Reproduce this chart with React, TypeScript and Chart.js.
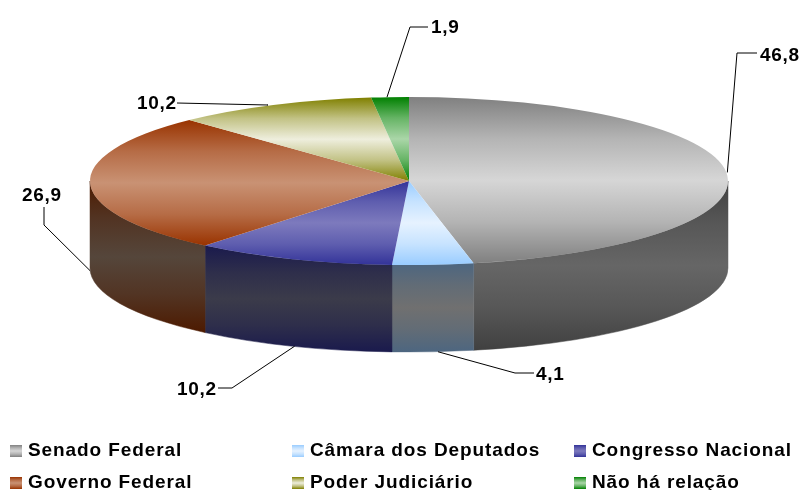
import React, { useEffect, useRef } from "react";
import { Chart, registerables } from "chart.js";

Chart.register(...registerables);

const categories = ["Senado Federal", "Câmara dos Deputados", "Congresso Nacional", "Governo Federal", "Poder Judiciário", "Não há relação"];
const values = [46.8, 4.1, 10.2, 26.9, 10.2, 1.9];
const valueLabels = ["46,8", "4,1", "10,2", "26,9", "10,2", "1,9"];

const faceEdge = ["#808080", "#99ccff", "#333399", "#993300", "#808000", "#008000"];
const faceMid = ["#d6d6d6", "#e6f2ff", "#7d7abd", "#c99274", "#eeeedd", "#aad6a8"];
const wallEdge = ["#404040", "#4d6680", "#1a1a4d", "#4d1a00", "#404000", "#004000"];
const wallMid = ["#666666", "#707070", "#3b3b4a", "#55463b", "#66664d", "#4d664d"];

// layout of the drawing
const CX = 409, CY = 181, RX = 319, RY = 84, DEPTH = 87;
const TILT = RY / RX;
// leader: anchor nudge along x, elbow point, end point, text x, text baseline
const anchorNudge = [1, 5, 2, 0, -6, -3];
const leaderElbow = [[737, 53], [515, 373], [232, 388], [44, 225], [268, 105], [410, 27]];
const leaderEnd = [[757, 53], [534, 373], [218, 388], [44, 207], [177, 103], [428, 27]];
const labelPos = [[760, 61], [536, 380], [177, 395], [22, 201], [137, 109], [431, 33]];
const legendCols = [10, 292, 574];
const legendRows = [457, 489];
const FONT = 'bold 19px "Liberation Sans", Arial, sans-serif';

const total = values.reduce((a, b) => a + b, 0);
function sliceAngles(i: number) {
  let before = 0;
  for (let k = 0; k < i; k++) before += values[k];
  const a0 = -Math.PI / 2 + (before / total) * 2 * Math.PI;
  const a1 = a0 + (values[i] / total) * 2 * Math.PI;
  return [a0, a1];
}
function sinRange(a0: number, a1: number, includeCentre: boolean) {
  const list = [Math.sin(a0), Math.sin(a1)];
  if (includeCentre) list.push(0);
  for (let n = -3; n <= 5; n++) {
    const c = Math.PI / 2 + n * Math.PI;
    if (c > a0 && c < a1) list.push(Math.sin(c));
  }
  return [Math.min(...list), Math.max(...list)];
}
function mix(a: string, b: string, t: number) {
  const p = (h: string, o: number) => parseInt(h.slice(o, o + 2), 16);
  const ch = (o: number) => Math.round(p(a, o) + (p(b, o) - p(a, o)) * t);
  return `rgb(${ch(1)},${ch(3)},${ch(5)})`;
}
function threeStop(ctx: CanvasRenderingContext2D, y0: number, y1: number, edge: string, mid: string) {
  const g = ctx.createLinearGradient(0, y0, 0, y1);
  g.addColorStop(0, edge);
  g.addColorStop(0.25, mix(edge, mid, 0.6));
  g.addColorStop(0.5, mid);
  g.addColorStop(0.75, mix(edge, mid, 0.6));
  g.addColorStop(1, edge);
  return g;
}

const pie3d = {
  id: "pie3d",
  beforeDatasetsDraw(chart: any) {
    const ctx: CanvasRenderingContext2D = chart.ctx;
    const arcs = chart.getDatasetMeta(0).data;
    arcs.forEach((arc: any, i: number) => {
      const { x, y, outerRadius, startAngle, endAngle } = arc.getProps(["x", "y", "outerRadius", "startAngle", "endAngle"], true);
      const a0 = Math.max(startAngle, 0);
      const a1 = Math.min(endAngle, Math.PI);
      if (a1 <= a0) return;
      const ry = outerRadius * TILT;
      const [s0, s1] = sinRange(a0, a1, false);
      ctx.beginPath();
      ctx.ellipse(x, y, outerRadius, ry, 0, a0, a1);
      ctx.ellipse(x, y + DEPTH, outerRadius, ry, 0, a1, a0, true);
      ctx.closePath();
      const fill = threeStop(ctx, y + s0 * ry, y + s1 * ry + DEPTH, wallEdge[i], wallMid[i]);
      ctx.fillStyle = fill;
      ctx.fill();
      ctx.strokeStyle = fill;
      ctx.lineWidth = 0.5;
      ctx.stroke();
    });
    ctx.save();
    ctx.translate(0, CY);
    ctx.scale(1, TILT);
    ctx.translate(0, -CY);
  },
  afterDatasetsDraw(chart: any) {
    const ctx: CanvasRenderingContext2D = chart.ctx;
    ctx.restore();
    const arcs = chart.getDatasetMeta(0).data;
    ctx.save();
    ctx.strokeStyle = "#000000";
    ctx.lineWidth = 1;
    ctx.fillStyle = "#000000";
    ctx.font = FONT;
    (ctx as any).letterSpacing = "0.7px";
    ctx.textBaseline = "alphabetic";
    ctx.textAlign = "left";
    arcs.forEach((arc: any, i: number) => {
      const { x, y, outerRadius, startAngle, endAngle } = arc.getProps(["x", "y", "outerRadius", "startAngle", "endAngle"], true);
      const mid = (startAngle + endAngle) / 2;
      const ax = x + outerRadius * Math.cos(mid) + anchorNudge[i];
      const front = Math.sin(mid) > 0;
      const onLeftSide = Math.abs(Math.cos(mid)) > 0.99 && Math.cos(mid) < 0;
      const ay = y + outerRadius * TILT * Math.sin(mid) + (front || onLeftSide ? DEPTH : 0);
      ctx.beginPath();
      ctx.moveTo(ax, ay);
      ctx.lineTo(leaderElbow[i][0], leaderElbow[i][1]);
      ctx.lineTo(leaderEnd[i][0], leaderEnd[i][1]);
      ctx.stroke();
      ctx.fillText(valueLabels[i], labelPos[i][0], labelPos[i][1]);
    });
    // legend: three columns, two rows
    (ctx as any).letterSpacing = "0.9px";
    categories.forEach((name, i) => {
      const lx = legendCols[i % 3];
      const ly = legendRows[Math.floor(i / 3)];
      ctx.fillStyle = threeStop(ctx, ly - 12, ly, faceEdge[i], faceMid[i]);
      ctx.fillRect(lx, ly - 12, 12, 12);
      ctx.fillStyle = "#000000";
      ctx.fillText(name, lx + 18, ly - 1);
    });
    ctx.restore();
  },
};

export default function App() {
  const ref = useRef<HTMLCanvasElement>(null);
  useEffect(() => {
    const chart = new Chart(ref.current!, {
      type: "pie",
      plugins: [pie3d],
      data: {
        labels: categories,
        datasets: [
          {
            data: values,
            clip: false,
            borderWidth: 0,
            radius: RX,
            backgroundColor: (c: any) => {
              const i = c.dataIndex;
              if (i === undefined) return faceEdge[0];
              const [a0, a1] = sliceAngles(i);
              const [s0, s1] = sinRange(a0, a1, true);
              return threeStop(c.chart.ctx, CY + s0 * RX, CY + s1 * RX, faceEdge[i], faceMid[i]);
            },
          } as any,
        ],
      },
      options: {
        responsive: false,
        animation: false,
        layout: { padding: { left: 17, right: 0, top: 0, bottom: 128 } },
        plugins: { legend: { display: false }, tooltip: { enabled: false } },
      },
    } as any);
    return () => chart.destroy();
  }, []);
  return (
    <div style={{ position: "fixed", left: 0, top: 0, width: 801, height: 490, background: "#fff" }}>
      <canvas ref={ref} width={801} height={490} style={{ display: "block" }} />
    </div>
  );
}
